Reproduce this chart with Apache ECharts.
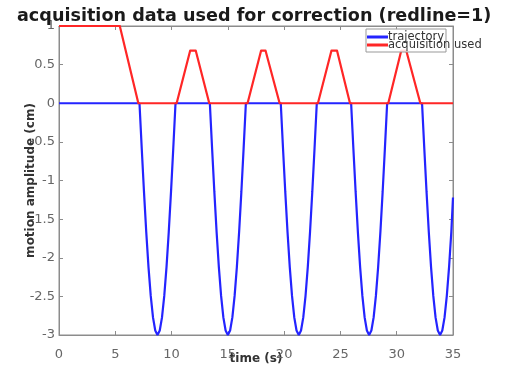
<!DOCTYPE html>
<html>
<head>
<meta charset="utf-8">
<script src="https://cdn.jsdelivr.net/npm/echarts@6/dist/echarts.min.js"></script>
<style>
  html, body { margin: 0; padding: 0; background: #fff; }
  #chart { width: 515px; height: 368px; }
</style>
</head>
<body>
<div id="chart"></div>
<script>
// Breathing trajectory (cm) sampled over time (s)
var trajectoryTime = [
  0,
  7.15, 7.35, 7.55, 7.75, 7.95, 8.15, 8.35, 8.55, 8.75, 8.95, 9.15, 9.35, 9.55, 9.75, 9.95, 10.15, 10.35,
  13.40, 13.60, 13.80, 14.00, 14.20, 14.40, 14.60, 14.80, 15.00, 15.20, 15.40, 15.60, 15.80, 16.00, 16.20, 16.40, 16.60,
  19.70, 19.90, 20.10, 20.30, 20.50, 20.70, 20.90, 21.10, 21.30, 21.50, 21.70, 21.90, 22.10, 22.30, 22.50, 22.70, 22.90,
  25.95, 26.15, 26.35, 26.55, 26.75, 26.95, 27.15, 27.35, 27.55, 27.75, 27.95, 28.15, 28.35, 28.55, 28.75, 28.95, 29.15,
  32.25, 32.45, 32.65, 32.85, 33.05, 33.25, 33.45, 33.65, 33.85, 34.05, 34.25, 34.45, 34.65, 34.85, 35.00
];
var trajectoryValue = [
  0,
  0, -0.585, -1.148, -1.667, -2.121, -2.494, -2.772, -2.942, -3, -2.942, -2.772, -2.494, -2.121, -1.667, -1.148, -0.585, 0,
  0, -0.585, -1.148, -1.667, -2.121, -2.494, -2.772, -2.942, -3, -2.942, -2.772, -2.494, -2.121, -1.667, -1.148, -0.585, 0,
  0, -0.585, -1.148, -1.667, -2.121, -2.494, -2.772, -2.942, -3, -2.942, -2.772, -2.494, -2.121, -1.667, -1.148, -0.585, 0,
  0, -0.585, -1.148, -1.667, -2.121, -2.494, -2.772, -2.942, -3, -2.942, -2.772, -2.494, -2.121, -1.667, -1.148, -0.585, 0,
  0, -0.585, -1.148, -1.667, -2.121, -2.494, -2.772, -2.942, -3, -2.942, -2.772, -2.494, -2.121, -1.667, -1.22
];

// Acquisition window flag used for correction
var acquisitionTime = [0, 5.4, 7.05, 10.45, 11.65, 12.15, 13.35, 16.75, 17.95, 18.35, 19.6, 23.0, 24.2, 24.7, 25.85, 29.25, 30.4, 30.85, 32.1, 35];
var acquisitionValue = [1, 1, 0, 0, 0.68, 0.68, 0, 0, 0.68, 0.68, 0, 0, 0.68, 0.68, 0, 0, 0.68, 0.68, 0, 0];

var seriesNames = ['trajectory', 'acquisition used'];
var titleText = 'acquisition data used for correction (redline=1)';
var xAxisName = 'time (s)';
var yAxisName = 'motion amplitude (cm)';

function pairs(xs, ys) {
  return xs.map(function (x, i) { return [x, ys[i]]; });
}

var FONT = 'DejaVu Sans';
var AXIS_GREY = '#8c8c8c';

function frameAxis(extra) {
  var base = {
    type: 'value',
    axisLine: { show: true, onZero: false, lineStyle: { color: AXIS_GREY } },
    axisTick: { show: true, inside: true, length: 4, lineStyle: { color: AXIS_GREY } },
    axisLabel: { show: false },
    splitLine: { show: false }
  };
  return Object.assign(base, extra);
}

var chart = echarts.init(document.getElementById('chart'));
chart.setOption({
  animation: false,
  backgroundColor: '#fff',
  title: {
    text: titleText,
    left: 12,
    top: 2,
    textStyle: { fontFamily: FONT, fontSize: 17.6, fontWeight: 'bold', color: '#1a1a1a' }
  },
  grid: { left: 59, right: 62, top: 26, bottom: 33, show: true, borderColor: AXIS_GREY, borderWidth: 1, backgroundColor: '#fff', outerBoundsMode: 'none' },
  legend: {
    data: seriesNames,
    orient: 'vertical',
    left: 367,
    top: 31,
    itemGap: -4,
    itemWidth: 21,
    itemHeight: 3,
    icon: 'rect',
    textStyle: { fontFamily: FONT, fontSize: 11.5, lineHeight: 7, color: '#333', padding: [0, 0, 0, -5] },
    padding: 0
  },
  graphic: [{
    type: 'rect',
    shape: { x: 366, y: 29, width: 80, height: 23 },
    style: { fill: 'rgba(255,255,255,0.85)', stroke: '#999', lineWidth: 1 },
    z: 3
  }],
  xAxis: [
    frameAxis({
      min: 0, max: 35, interval: 5, position: 'bottom',
      name: xAxisName, nameLocation: 'middle', nameGap: 18, nameMoveOverlap: false,
      nameTextStyle: { fontFamily: FONT, fontSize: 12, fontWeight: 'bold', color: '#333' },
      axisLabel: { show: true, fontFamily: FONT, fontSize: 13, color: '#666', margin: 13 }
    }),
    frameAxis({ min: 0, max: 35, interval: 5, position: 'top' })
  ],
  yAxis: [
    frameAxis({
      min: -3, max: 1, interval: 0.5, position: 'left',
      name: yAxisName, nameLocation: 'middle', nameGap: 22, nameMoveOverlap: false,
      nameTextStyle: { fontFamily: FONT, fontSize: 12, fontWeight: 'bold', color: '#333' },
      axisLabel: { show: true, fontFamily: FONT, fontSize: 13, color: '#666', margin: 4 }
    }),
    frameAxis({ min: -3, max: 1, interval: 0.5, position: 'right' })
  ],
  series: [{
    name: seriesNames[0],
    type: 'line',
    data: pairs(trajectoryTime, trajectoryValue),
    showSymbol: false,
    color: '#2424ff',
    lineStyle: { width: 2.2, color: '#2424ff' },
    z: 2
  }, {
    name: seriesNames[1],
    type: 'line',
    data: pairs(acquisitionTime, acquisitionValue),
    showSymbol: false,
    color: '#ff2626',
    lineStyle: { width: 2.2, color: '#ff2626', join: 'round' },
    z: 2
  }]
});
</script>
</body>
</html>
